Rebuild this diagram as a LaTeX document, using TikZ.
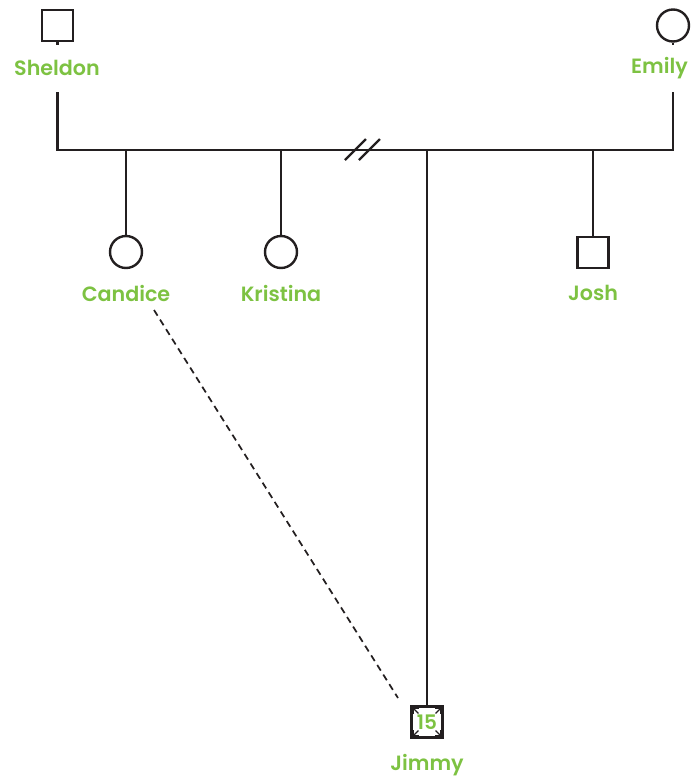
\documentclass[tikz,border=0pt]{standalone}
\usepackage{fontspec}
\setmainfont{Poppins}[BoldFont={Poppins SemiBold}]
\usetikzlibrary{arrows.meta}
\definecolor{lgreen}{HTML}{7DC242}
\definecolor{ink}{HTML}{231F20}
\begin{document}
\begin{tikzpicture}[x=0.75pt,y=-0.75pt,
  line width=1.8pt, draw=ink,
  male/.style={draw=ink,line width=1.8pt,minimum size=23pt,inner sep=0pt,rectangle},
  female/.style={draw=ink,line width=1.8pt,minimum size=24pt,inner sep=0pt,circle},
  lbl/.style={text=lgreen,font=\fontsize{15.5}{17}\selectfont\bfseries,inner sep=0pt},
  rel/.style={draw=ink,line width=1.8pt}]
\useasboundingbox (0,0) rectangle (694,779);
% parents
\node[male] (sheldon) at (57.5,25.5) {};
\node[female] (emily) at (673,25.5) {};
\node[lbl] (sheldonL) at (57,68) {Sheldon};
\node[lbl,anchor=east] (emilyL) at (689,68) {Emily};
\coordinate (s1) at (57.5,45);
\coordinate (e1) at (673,45);
\draw[rel] (sheldon.south) -- (s1);
\draw[rel] (emily.south) -- (e1);
\coordinate (sTop) at (57.5,92);
\coordinate (eTop) at (673,92);
\coordinate (sBar) at (57.5,150);
\coordinate (eBar) at (673,150);
\draw[rel] (sTop) -- (sBar) -- (eBar) -- (eTop);
% divorce slashes
\coordinate (d1a) at (345,160); \coordinate (d1b) at (366,139);
\coordinate (d2a) at (359,160); \coordinate (d2b) at (380,139);
\draw[line width=1.6pt,draw=ink] (d1a) -- (d1b);
\draw[line width=1.6pt,draw=ink] (d2a) -- (d2b);
% children
\node[female] (candice) at (126,252) {};
\node[female] (kristina) at (281,252) {};
\node[male] (josh) at (593,252.5) {};
\node[lbl] (candiceL) at (126,293) {Candice};
\node[lbl] (kristinaL) at (281,293) {Kristina};
\node[lbl] (joshL) at (593,293) {Josh};
\coordinate (cBar) at (126,150);
\coordinate (kBar) at (281,150);
\coordinate (jBar) at (593,150);
\coordinate (jiBar) at (427,150);
\draw[rel] (cBar) -- (candice.north);
\draw[rel] (kBar) -- (kristina.north);
\draw[rel] (jBar) -- (josh.north);
% Jimmy
\node[male,text=lgreen,font=\fontsize{15}{16}\selectfont\bfseries] (jimmy) at (427,722) {15};
\node[lbl] (jimmyL) at (427,765) {Jimmy};
\draw[rel] (jiBar) -- (jimmy.north);
\foreach \c/\dx/\dy in {north west/-1/-1, north east/1/-1, south west/-1/1, south east/1/1}{
  \draw[line width=1pt,-{Straight Barb[length=3pt,width=6pt,angle'=90]}] ([xshift=-\dx*6pt,yshift=\dy*6pt]jimmy.\c) -- ([xshift=-\dx*1.5pt,yshift=\dy*1.5pt]jimmy.\c);
}
\coordinate (dA) at (154,310);
\coordinate (dB) at (398,698);
\draw[line width=1.3pt,dash pattern=on 5pt off 3.5pt,draw=ink] (dA) -- (dB);
\end{tikzpicture}
\end{document}
